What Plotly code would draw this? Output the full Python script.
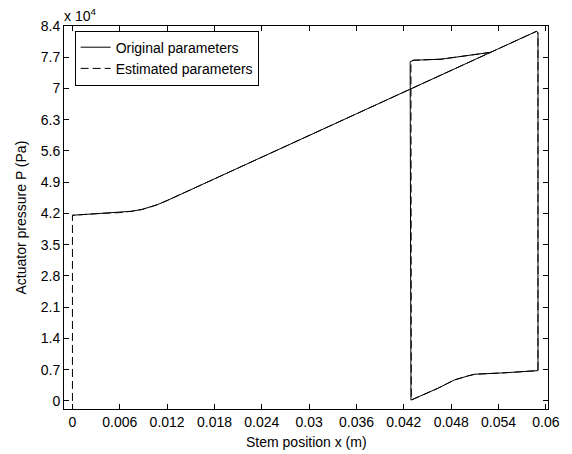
import plotly.graph_objects as go

# Original parameters (solid) - stem position (m), pressure (Pa)
orig_x = [0.0, 0.0035, 0.0060, 0.0075, 0.0088, 0.0098, 0.0108, 0.0120, 0.0236, 0.0428,
          0.0526, 0.0588, 0.0590, 0.0590, 0.0547, 0.0526, 0.0510, 0.0501, 0.0484, 0.0463,
          0.0432, 0.0429, 0.0428, 0.0432, 0.0467, 0.0501, 0.0530]
orig_y = [41600, 42000, 42200, 42500, 42900, 43400, 44000, 44900, 54300, 69860,
          77750, 82800, 82500, 6800, 6300, 6200, 5990, 5600, 4700, 2830,
          300, 200, 76000, 76330, 76560, 77300, 78100]

# Estimated parameters (dashed)
est_x = [0.0, 0.0, 0.0035, 0.0060, 0.0075, 0.0088, 0.0098, 0.0108, 0.0120, 0.0236, 0.0428,
         0.0526, 0.0588, 0.0590, 0.0590, 0.0547, 0.0526, 0.0510, 0.0501, 0.0484, 0.0463,
         0.0432, 0.04295, 0.04290, 0.0432, 0.0467, 0.0501, 0.0530]
est_y = [0, 41600, 42000, 42200, 42500, 42900, 43400, 44000, 44900, 54300, 69860,
         77750, 82800, 82500, 6800, 6300, 6200, 5990, 5600, 4700, 2830,
         300, 200, 76000, 76330, 76560, 77300, 78100]

x_ticks = [0, 0.006, 0.012, 0.018, 0.024, 0.03, 0.036, 0.042, 0.048, 0.054, 0.06]
x_tick_text = ["0", "0.006", "0.012", "0.018", "0.024", "0.03", "0.036", "0.042", "0.048", "0.054", "0.06"]
y_ticks = [0, 7000, 14000, 21000, 28000, 35000, 42000, 49000, 56000, 63000, 70000, 77000, 84000]
y_tick_text = ["0", "0.7", "1.4", "2.1", "2.8", "3.5", "4.2", "4.9", "5.6", "6.3", "7", "7.7", "8.4"]

x_title = "Stem position x (m)"
y_title = "Actuator pressure P (Pa)"

FONT = "Arial, Liberation Sans, Helvetica, sans-serif"
TF = dict(family=FONT, size=14, color="black")

fig = go.Figure()
fig.add_trace(go.Scatter(x=orig_x, y=orig_y, mode="lines", name="Original parameters",
                         line=dict(color="black", width=1)))
fig.add_trace(go.Scatter(x=est_x, y=est_y, mode="lines", name="Estimated parameters",
                         line=dict(color="black", width=1, dash="8px,4px")))

axis_common = dict(showline=True, linecolor="black", linewidth=1, mirror="ticks",
                   ticks="inside", ticklen=5, tickcolor="black", tickwidth=1,
                   showgrid=False, zeroline=False, tickfont=TF)

fig.update_xaxes(range=[-0.00107, 0.06027], tickmode="array", tickvals=x_ticks,
                 ticktext=x_tick_text, **axis_common)
fig.update_yaxes(range=[-1800, 84000], tickmode="array", tickvals=y_ticks,
                 ticktext=y_tick_text, **axis_common)

fig.add_annotation(xref="paper", yref="paper", x=0.5, y=0, xanchor="center", yanchor="middle",
                   yshift=-33, text=x_title, showarrow=False, font=TF)
fig.add_annotation(xref="paper", yref="paper", x=0, y=0.5, xanchor="center", yanchor="middle",
                   xshift=-44, textangle=-90, text=y_title, showarrow=False, font=TF)
fig.add_annotation(xref="paper", yref="paper", x=0, y=1.0, xanchor="left", yanchor="bottom",
                   text="x 10<sup>4</sup>", showarrow=False, xshift=-2, yshift=0, font=TF)

fig.update_layout(
    width=572, height=454,
    margin=dict(l=64, r=21, t=26, b=45),
    paper_bgcolor="white", plot_bgcolor="white",
    font=TF,
    legend=dict(x=0.022, y=0.988, xanchor="left", yanchor="top",
                bgcolor="white", bordercolor="black", borderwidth=1,
                font=TF, tracegroupgap=0, itemwidth=30),
    showlegend=True,
)

fig.write_html("out.html", config={"displayModeBar": False},
               post_script="document.body.style.margin='0';")
